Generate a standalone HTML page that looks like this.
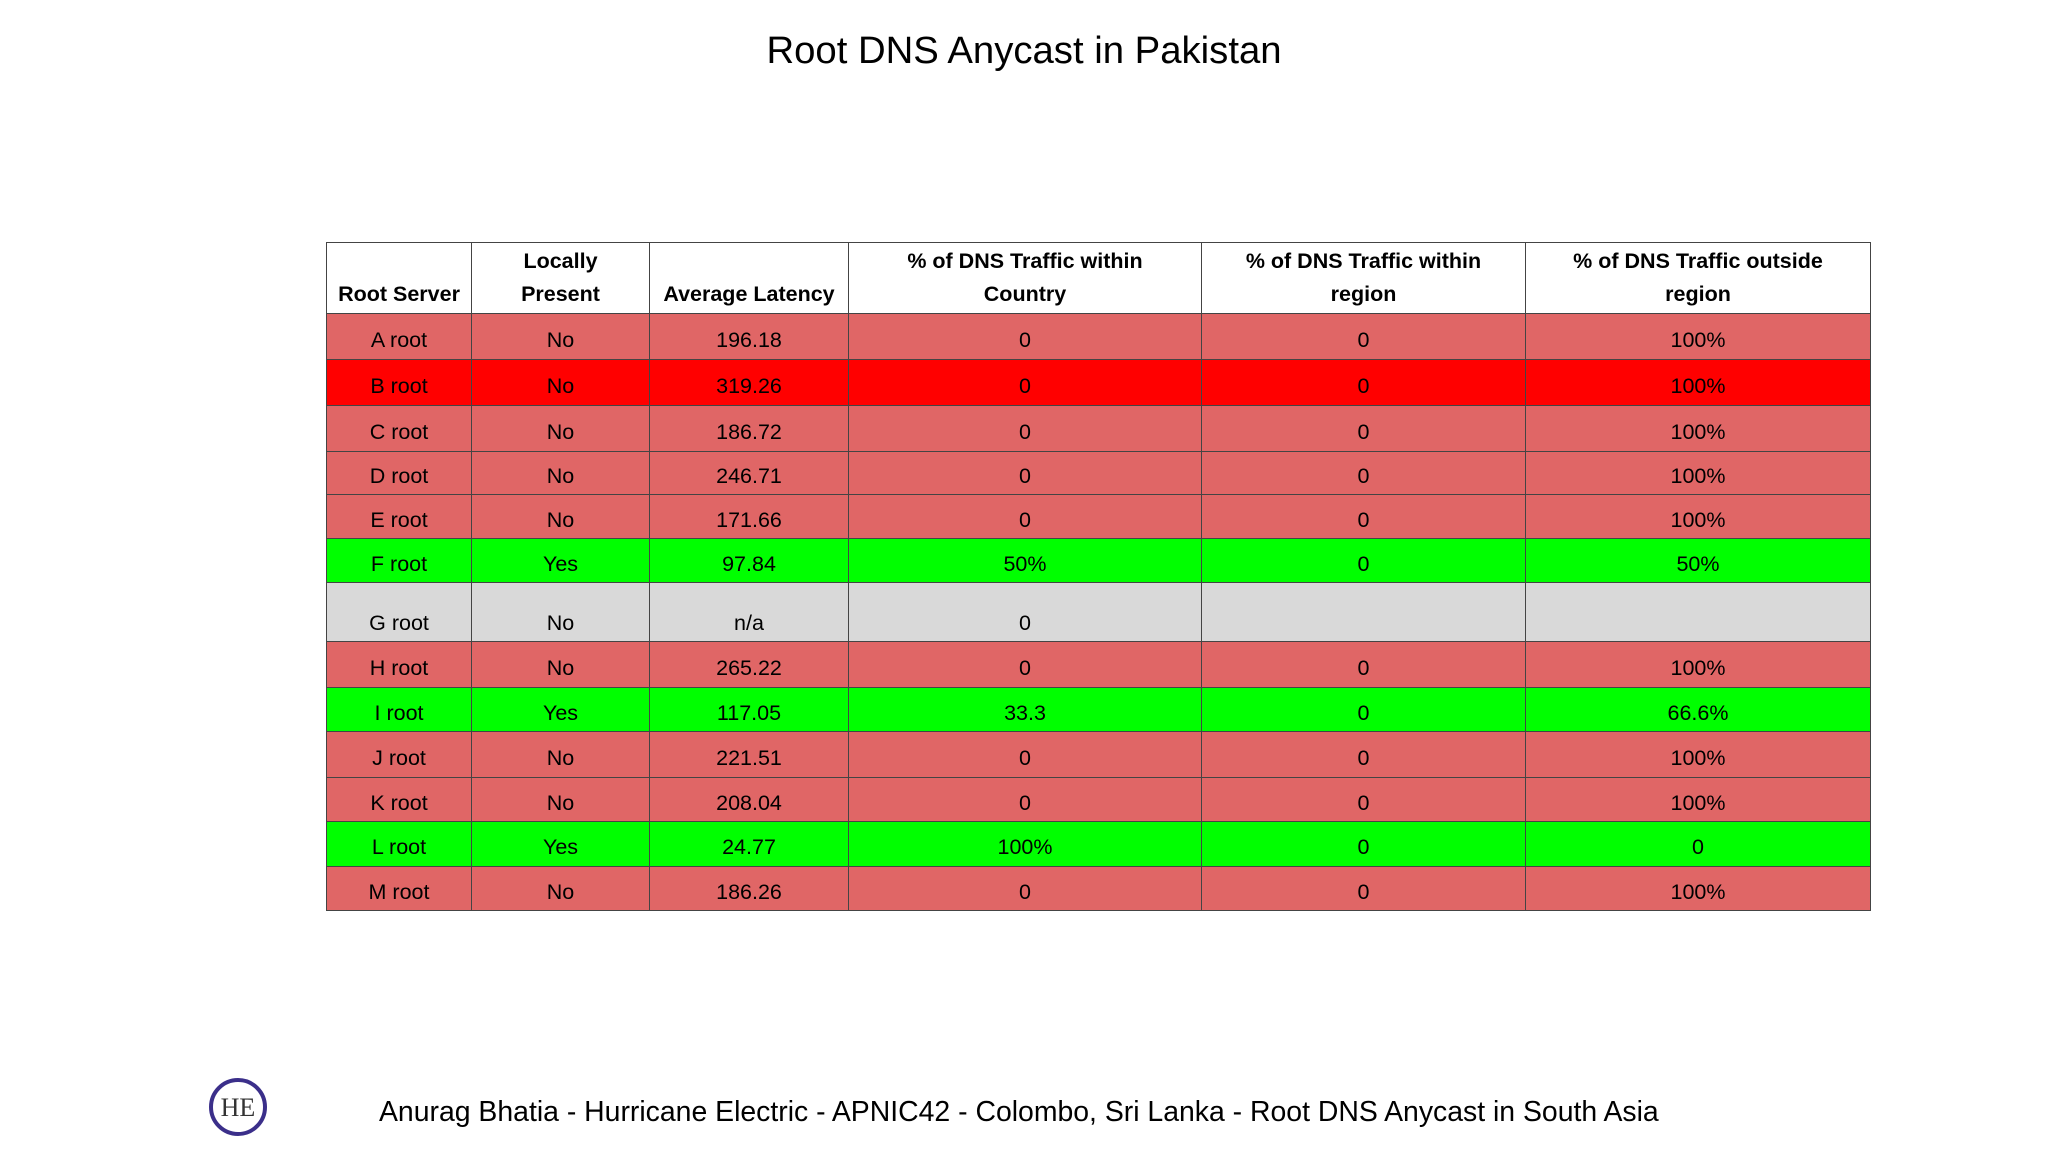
<!DOCTYPE html>
<html><head><meta charset="utf-8"><style>
body{margin:0;width:2048px;height:1152px;background:#fff;position:relative;overflow:hidden;font-family:"Liberation Sans",Arial,sans-serif;color:#000}
#title{position:absolute;left:0;width:2048px;top:29px;text-align:center;font-size:38.3px}
.c{position:absolute;box-sizing:border-box;border:1.5px solid #444;display:flex;align-items:center;justify-content:center;text-align:center;font-size:21.5px}
.h{font-weight:bold;line-height:33px;background:#fff;align-items:flex-end;padding-bottom:2px}
#footer{position:absolute;left:379px;top:1096px;font-size:28.4px;white-space:nowrap}
#logo{position:absolute;left:208px;top:1078px}
</style></head><body>
<div id="title">Root DNS Anycast in Pakistan</div>
<div id="tbl"></div>
<svg id="logo" width="60" height="60"><circle cx="30" cy="29" r="27" fill="#fff" stroke="#3b2f8a" stroke-width="4"/><text x="30" y="38" font-family="Liberation Serif,serif" font-size="26" text-anchor="middle" fill="#333">HE</text></svg>
<div id="footer">Anurag Bhatia - Hurricane Electric - APNIC42 - Colombo, Sri Lanka - Root DNS Anycast in South Asia</div>
<script>
const headers=["Root Server","Locally<br>Present","Average Latency","% of DNS Traffic within<br>Country","% of DNS Traffic within<br>region","% of DNS Traffic outside<br>region"];
const servers=["A root","B root","C root","D root","E root","F root","G root","H root","I root","J root","K root","L root","M root"];
const present=["No","No","No","No","No","Yes","No","No","Yes","No","No","Yes","No"];
const latency=["196.18","319.26","186.72","246.71","171.66","97.84","n/a","265.22","117.05","221.51","208.04","24.77","186.26"];
const inCountry=["0","0","0","0","0","50%","0","0","33.3","0","0","100%","0"];
const inRegion=["0","0","0","0","0","0","","0","0","0","0","0","0"];
const outRegion=["100%","100%","100%","100%","100%","50%","","100%","66.6%","100%","100%","0","100%"];
const rowClass=["p","r","p","p","p","g","n","p","g","p","p","g","p"];
const colX=[326,471,649,848,1201,1525,1870];
const rowY=[242,313,359,405,451,494,538,582,641,687,731,777,821,866,910];
const colors={p:"#e06666",r:"#ff0000",g:"#00ff00",n:"#d9d9d9"};
const tbl=document.getElementById('tbl');
function cell(x0,x1,y0,y1,html,bg,hdr,lowText){
  const d=document.createElement('div');
  d.className='c'+(hdr?' h':'');
  d.style.left=x0+'px';d.style.top=y0+'px';d.style.width=(x1-x0+1)+'px';d.style.height=(y1-y0+1)+'px';
  d.style.background=bg;
  if(!hdr){d.style.paddingTop=lowText?'22px':'7px';}
  d.innerHTML=html;
  return d;
}
headers.forEach((h,i)=>{
  const d=cell(colX[i],colX[i+1],rowY[0],rowY[1],h,'#fff',true);
  
  
  tbl.appendChild(d);
});
servers.forEach((s,r)=>{
  const vals=[s,present[r],latency[r],inCountry[r],inRegion[r],outRegion[r]];
  vals.forEach((v,i)=>{
    const d=cell(colX[i],colX[i+1],rowY[r+1],rowY[r+2],v,colors[rowClass[r]],false,rowClass[r]==='n');
    
    
    tbl.appendChild(d);
  });
});
</script>
</body></html>
